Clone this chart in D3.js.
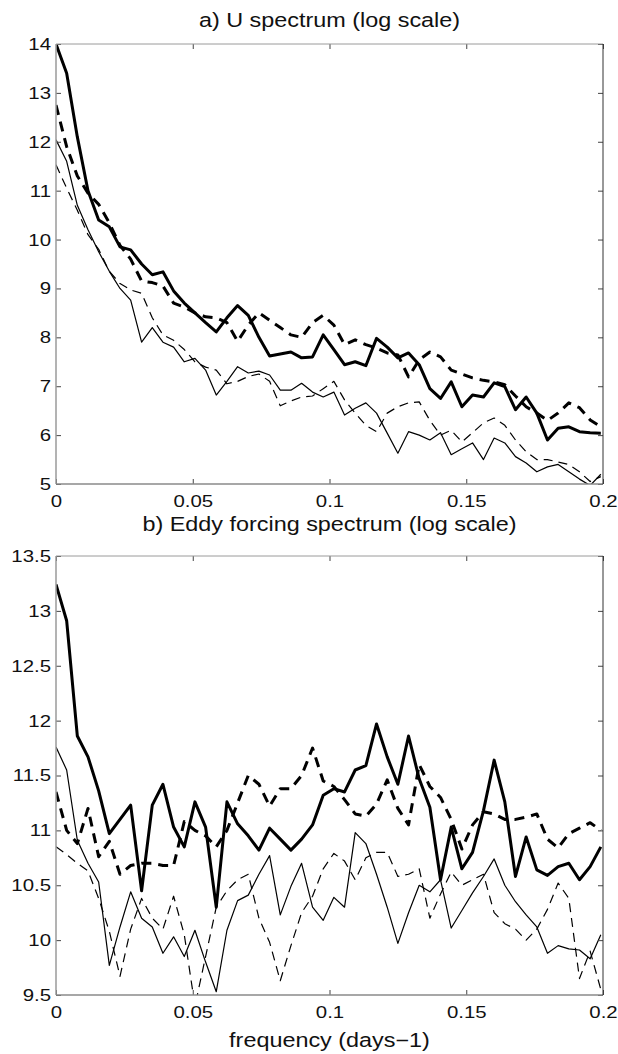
<!DOCTYPE html>
<html>
<head>
<meta charset="utf-8">
<script src="https://cdn.jsdelivr.net/npm/d3@7"></script>
<style>
    body { margin: 0; background: #fff; }
    text { font-family: "Liberation Sans", Arial, Helvetica, sans-serif; fill: #111; }
</style>
</head>
<body>
<div id="chart"></div>
<script>
// frequency grid (days-1), 1/256 spacing
const freq = [0, 0.0039, 0.0078, 0.0117, 0.0156, 0.0195, 0.0234, 0.0273, 0.0313, 0.0352,
    0.0391, 0.0430, 0.0469, 0.0508, 0.0547, 0.0586, 0.0625, 0.0664, 0.0703, 0.0742,
    0.0781, 0.0820, 0.0859, 0.0898, 0.0938, 0.0977, 0.1016, 0.1055, 0.1094, 0.1133,
    0.1172, 0.1211, 0.1250, 0.1289, 0.1328, 0.1367, 0.1406, 0.1445, 0.1484, 0.1523,
    0.1563, 0.1602, 0.1641, 0.1680, 0.1719, 0.1758, 0.1797, 0.1836, 0.1875, 0.1914,
    0.1953, 0.1992]

// a) U spectrum (log scale)
const uThickSolid = [14.0, 13.4, 12.1, 11.0, 10.4, 10.26, 9.85, 9.79, 9.5, 9.28,
    9.34, 8.95, 8.7, 8.5, 8.3, 8.11, 8.4, 8.65, 8.45, 8.0,
    7.62, 7.66, 7.70, 7.58, 7.6, 8.05, 7.75, 7.44, 7.5, 7.42,
    7.98, 7.8, 7.58, 7.68, 7.44, 6.95, 6.75, 7.09, 6.58, 6.82,
    6.78, 7.07, 6.99, 6.52, 6.78, 6.45, 5.9, 6.14, 6.17, 6.07,
    6.05, 6.04]
const uThickDash = [12.75, 11.9, 11.3, 10.95, 10.72, 10.34, 9.88, 9.6, 9.15, 9.12,
    9.05, 8.7, 8.62, 8.5, 8.42, 8.4, 8.3, 7.92, 8.25, 8.5,
    8.35, 8.2, 8.05, 8.0, 8.3, 8.45, 8.25, 7.85, 7.95, 7.85,
    7.78, 7.68, 7.64, 7.19, 7.54, 7.7, 7.6, 7.33, 7.25, 7.17,
    7.12, 7.09, 7.03, 6.8, 6.58, 6.45, 6.3, 6.45, 6.66, 6.56,
    6.31, 6.17]
const uThinSolid = [12.04, 11.6, 10.7, 10.2, 9.75, 9.35, 9.0, 8.76, 7.9, 8.2,
    7.9, 7.8, 7.5, 7.57, 7.33, 6.82, 7.1, 7.4, 7.27, 7.31,
    7.23, 6.92, 6.92, 7.06, 6.88, 6.78, 6.88, 6.41, 6.55, 6.66,
    6.45, 6.04, 5.63, 6.07, 6.0, 5.9, 6.05, 5.6, 5.72, 5.84,
    5.5, 5.94, 5.84, 5.56, 5.43, 5.25, 5.35, 5.40, 5.25, 5.1,
    4.97, 5.2]
const uThinDash = [11.53, 11.05, 10.6, 10.1, 9.8, 9.35, 9.1, 8.97, 8.9, 8.4,
    8.05, 7.94, 7.75, 7.5, 7.39, 7.33, 7.05, 7.1, 7.2, 7.25,
    7.1, 6.6, 6.7, 6.78, 6.8, 6.95, 7.1, 6.72, 6.45, 6.2,
    6.07, 6.45, 6.58, 6.66, 6.68, 6.3, 6.0, 6.1, 5.86, 6.05,
    6.25, 6.35, 6.2, 5.9, 5.66, 5.5, 5.5, 5.45, 5.4, 5.25,
    5.05, 5.15]

// b) Eddy forcing spectrum (log scale)
const eThickSolid = [13.24, 12.91, 11.86, 11.67, 11.36, 10.97, 11.1, 11.23, 10.45, 11.23,
    11.42, 11.03, 10.85, 11.26, 11.03, 10.30, 11.26, 11.06, 10.95, 10.82,
    11.02, 10.92, 10.82, 10.92, 11.05, 11.32, 11.38, 11.35, 11.55, 11.59,
    11.97, 11.67, 11.42, 11.86, 11.47, 11.21, 10.55, 11.03, 10.65, 10.80,
    11.18, 11.64, 11.26, 10.58, 10.94, 10.64, 10.59, 10.67, 10.70, 10.55,
    10.67, 10.85]
const eThickDash = [11.35, 11.0, 10.88, 11.2, 10.76, 10.9, 10.6, 10.68, 10.7, 10.7,
    10.68, 10.68, 11.08, 11.0, 10.95, 10.85, 11.0, 11.25, 11.5, 11.42,
    11.22, 11.38, 11.38, 11.5, 11.75, 11.45, 11.4, 11.28, 11.15, 11.13,
    11.24, 11.46, 11.2, 11.05, 11.6, 11.4, 11.3, 11.1, 10.83, 11.05,
    11.17, 11.15, 11.1, 11.1, 11.12, 11.15, 10.92, 10.84, 10.97, 11.02,
    11.07, 11.0]
const eThinSolid = [11.76, 11.55, 10.91, 10.7, 10.53, 9.77, 10.12, 10.44, 10.2, 10.12,
    9.88, 10.03, 9.85, 10.09, 9.8, 9.53, 10.09, 10.36, 10.41, 10.6,
    10.77, 10.23, 10.49, 10.7, 10.3, 10.18, 10.39, 10.30, 10.98, 10.88,
    10.6, 10.3, 9.97, 10.25, 10.5, 10.44, 10.55, 10.11, 10.27, 10.43,
    10.58, 10.74, 10.5, 10.35, 10.23, 10.12, 9.88, 9.95, 9.92, 9.91,
    9.83, 10.05]
const eThinDash = [10.85, 10.78, 10.7, 10.63, 10.38, 10.08, 9.67, 10.1, 10.38, 10.2,
    10.1, 10.4, 10.05, 9.4, 9.85, 10.3, 10.45, 10.55, 10.6, 10.2,
    9.98, 9.63, 9.95, 10.25, 10.4, 10.65, 10.79, 10.72, 10.55, 10.75,
    10.8, 10.8, 10.58, 10.6, 10.65, 10.2, 10.42, 10.62, 10.5, 10.55,
    10.6, 10.25, 10.15, 10.1, 10.0, 10.1, 10.28, 10.52, 10.38, 9.65,
    9.9, 9.55]

const xTicks = [0, 0.05, 0.1, 0.15, 0.2]
const xTickLabels = ["0", "0.05", "0.1", "0.15", "0.2"]
const uTicks = [5, 6, 7, 8, 9, 10, 11, 12, 13, 14]
const eTicks = [9.5, 10, 10.5, 11, 11.5, 12, 12.5, 13, 13.5]

// the reference figure is stretched sideways, so is its lettering
const textStretch = 1.2

let dimensions = {
    width: 618,
    height: 1054,
    margin: { left: 56, right: 15 },
}
dimensions.boundedWidth = dimensions.width - dimensions.margin.left - dimensions.margin.right

const svg = d3.select('#chart')
    .append('svg')
    .attr("width", dimensions.width)
    .attr("height", dimensions.height)

const xScale = d3.scaleLinear()
    .domain([0, 0.2])
    .range([0, dimensions.boundedWidth])

const styles = [
    { width: 3, dash: null },
    { width: 3, dash: "10,7" },
    { width: 1.2, dash: null },
    { width: 1.2, dash: "9,6" },
]

function addTitle(text, x, y) {
    svg.append("text")
        .attr("transform", `translate(${x}, ${y}) scale(${textStretch}, 1)`)
        .attr("text-anchor", "middle")
        .style("font-size", "19.5px")
        .text(text)
}

function drawPanel(opts) {
    const h = opts.bottom - opts.top
    const yScale = d3.scaleLinear()
        .domain(opts.domain)
        .range([h, 0])

    const bounds = svg.append("g")
        .attr("transform", `translate(${dimensions.margin.left}, ${opts.top})`)

    svg.append("clipPath")
        .attr("id", opts.id + "-clip")
        .append("rect")
        .attr("width", dimensions.boundedWidth)
        .attr("height", h)

    const lineGenerator = d3.line()
        .x((d, i) => xScale(freq[i]))
        .y(d => yScale(d))

    const lines = bounds.append("g")
        .attr("clip-path", `url(#${opts.id}-clip)`)

    opts.series.forEach((s, i) => {
        lines.append("path")
            .datum(s)
            .attr("d", lineGenerator)
            .attr("fill", "none")
            .attr("stroke", "#000")
            .attr("stroke-width", styles[i].width)
            .attr("stroke-linejoin", "round")
            .attr("stroke-dasharray", styles[i].dash)
    })

    // axes, ticks pointing inward (box style)
    const tickLen = 5
    const xAxisBottom = d3.axisBottom(xScale).tickValues(xTicks)
        .tickSize(-tickLen).tickPadding(11)
        .tickFormat((d, i) => xTickLabels[i])
    const xAxisTop = d3.axisTop(xScale).tickValues(xTicks)
        .tickSize(-tickLen).tickFormat("")
    const yAxisLeft = d3.axisLeft(yScale).tickValues(opts.ticks)
        .tickSize(-tickLen).tickPadding(5)
        .tickFormat(d3.format("~g"))
    const yAxisRight = d3.axisRight(yScale).tickValues(opts.ticks)
        .tickSize(-tickLen).tickFormat("")

    const gx = bounds.append("g")
        .attr("transform", `translate(0, ${h})`)
        .call(xAxisBottom)
    const gxt = bounds.append("g").call(xAxisTop)
    const gy = bounds.append("g").call(yAxisLeft)
    const gyr = bounds.append("g")
        .attr("transform", `translate(${dimensions.boundedWidth}, 0)`)
        .call(yAxisRight)

    ;[gx, gxt, gy, gyr].forEach(g => {
        g.select(".domain").remove()
        g.selectAll(".tick line").attr("stroke", "#444")
        g.selectAll("text")
            .style("font-size", "17px")
            .style("font-family", '"Liberation Sans", Arial, sans-serif')
            .attr("fill", "#111")
            .attr("transform", `scale(${textStretch}, 1)`)
    })
    gx.selectAll("text").attr("dy", "0.72em")
    gy.selectAll("text").attr("x", -5 / textStretch)

    // box
    bounds.append("line")
        .attr("x1", 0).attr("x2", 0).attr("y1", 0).attr("y2", h)
        .attr("stroke", "#9a9a9a").attr("stroke-width", 1.5)
    bounds.append("line")
        .attr("x1", 0).attr("x2", dimensions.boundedWidth).attr("y1", h).attr("y2", h)
        .attr("stroke", "#8a8a8a").attr("stroke-width", 1.5)
    bounds.append("line")
        .attr("x1", 0).attr("x2", dimensions.boundedWidth).attr("y1", 0).attr("y2", 0)
        .attr("stroke", "#9a9a9a").attr("stroke-width", 1)
    bounds.append("line")
        .attr("x1", dimensions.boundedWidth).attr("x2", dimensions.boundedWidth)
        .attr("y1", 0).attr("y2", h)
        .attr("stroke", "#333").attr("stroke-width", 1)

    addTitle(opts.title, dimensions.margin.left + dimensions.boundedWidth / 2, opts.titleY)
}

drawPanel({
    id: "u",
    top: 44,
    bottom: 484,
    domain: [5, 14],
    ticks: uTicks,
    series: [uThickSolid, uThickDash, uThinSolid, uThinDash],
    title: "a) U spectrum (log scale)",
    titleY: 27,
})

drawPanel({
    id: "e",
    top: 556,
    bottom: 995,
    domain: [9.5, 13.5],
    ticks: eTicks,
    series: [eThickSolid, eThickDash, eThinSolid, eThinDash],
    title: "b) Eddy forcing spectrum (log scale)",
    titleY: 531,
})

addTitle("frequency (days\u22121)", dimensions.margin.left + dimensions.boundedWidth / 2, 1047)
</script>
</body>
</html>
